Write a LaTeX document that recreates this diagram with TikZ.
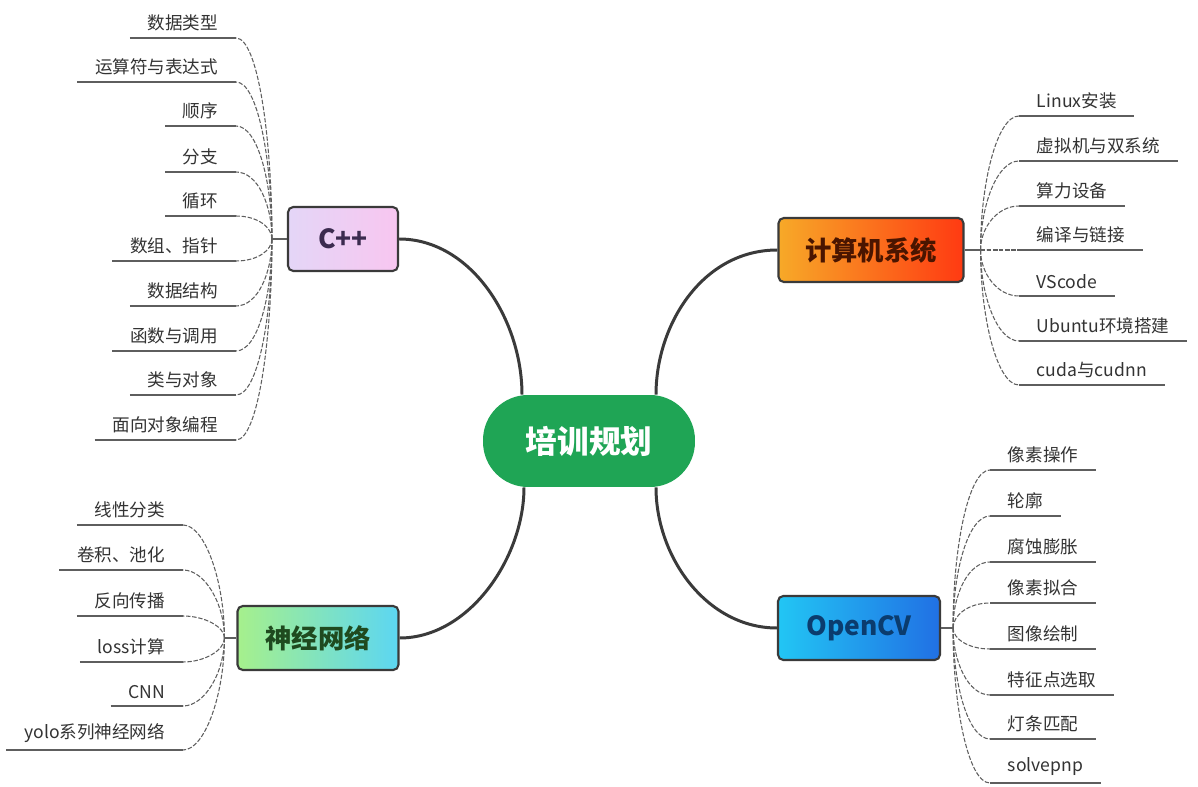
\documentclass[tikz,border=0pt]{standalone}
\usepackage{fontspec}
\setmainfont{Noto Sans CJK SC}
\usepackage{tikz}
\usetikzlibrary{calc}

\definecolor{hubgreen}{HTML}{1FA555}
\definecolor{trunkgray}{HTML}{3A3A3A}
\definecolor{twiggray}{HTML}{5E5E5E}
\definecolor{leafgray}{HTML}{333333}
\definecolor{cppL}{HTML}{E4D6F7}
\definecolor{cppR}{HTML}{F8C6F0}
\definecolor{sysL}{HTML}{F7A928}
\definecolor{sysR}{HTML}{FF3A12}
\definecolor{nnL}{HTML}{A6F08C}
\definecolor{nnR}{HTML}{5CD6F2}
\definecolor{cvL}{HTML}{22C6F4}
\definecolor{cvR}{HTML}{2170E4}

\tikzset{
  box/.style={draw=trunkgray, line width=1.2pt, rounded corners=3pt,
    minimum height=1.28cm, font=\fontsize{15}{18}\selectfont\bfseries},
  leaf/.style={inner xsep=10pt, inner ysep=4pt, text=leafgray,
    font=\fontsize{10}{12}\selectfont},
  lleaf/.style={leaf, anchor=south east},
  rleaf/.style={leaf, anchor=south west},
  trunk/.style={draw=trunkgray, line width=1.7pt},
  stem/.style={draw=twiggray, line width=0.7pt},
  twig/.style={draw=twiggray, line width=0.6pt, dash pattern=on 2.5pt off 1pt,
    to path={.. controls ($(\tikztostart)!.5!(\tikztostart|-\tikztotarget)$)
      and ($(\tikztotarget)+(#1,0)$) .. (\tikztotarget)}}
}

\begin{document}
\begin{tikzpicture}[x=0.02cm, y=-0.02cm]
  \fill[white] (0,0) rectangle (1198,787);
  \useasboundingbox (0,0) rectangle (1198,787);

  \node[fill=hubgreen, rounded corners=0.9cm, minimum width=4.24cm,
    minimum height=1.84cm, text=white, font=\fontsize{18}{22}\selectfont\bfseries]
    (hub) at (589,441) {培训规划};

  \node[box, minimum width=2.2cm, left color=cppL, right color=cppR,
    text={rgb,255:red,59;green,43;blue,79}]
    (cpp) at (343,239) {C++};

  \node[box, minimum width=3.7cm, left color=sysL, right color=sysR,
    text={rgb,255:red,74;green,21;blue,0}]
    (sys) at (871,250) {计算机系统};

  \node[box, minimum width=3.22cm, left color=nnL, right color=nnR,
    text={rgb,255:red,31;green,74;blue,31}]
    (nn) at (318,638) {神经网络};

  \node[box, minimum width=3.24cm, left color=cvL, right color=cvR,
    text={rgb,255:red,11;green,60;blue,110}]
    (cv) at (859,628) {OpenCV};

  \draw[trunk] (cpp.east) .. controls +(72,0) and ($(hub.north)+(-67,-75)$)
    .. ($(hub.north)+(-67,0)$);
  \draw[trunk] (sys.west) .. controls +(-75,0) and ($(hub.north)+(67,-70)$)
    .. ($(hub.north)+(67,0)$);
  \draw[trunk] (nn.east) .. controls +(70,0) and ($(hub.south)+(-65,70)$)
    .. ($(hub.south)+(-65,0)$);
  \draw[trunk] (cv.west) .. controls +(-70,0) and ($(hub.south)+(67,70)$)
    .. ($(hub.south)+(67,0)$);

  \coordinate (jc) at ($(cpp.west)+(-15,0)$);
  \coordinate (js) at ($(sys.east)+(16,0)$);
  \coordinate (jn) at ($(nn.west)+(-12,0)$);
  \coordinate (jv) at ($(cv.east)+(12,0)$);

  \draw[stem] (cpp.west) -- (jc);
  \draw[stem] (sys.east) -- (js);
  \draw[stem] (nn.west) -- (jn);
  \draw[stem] (cv.east) -- (jv);

  % C++
  \foreach \y/\t [count=\i] in {38/数据类型, 82/运算符与表达式, 126/顺序,
      172/分支, 216/循环, 261/数组、指针, 306/数据结构, 351/函数与调用,
      395/类与对象, 440/面向对象编程} {
    \node[lleaf] (c\i) at (236,\y) {\t};
    \draw[stem] (c\i.south west) -- (c\i.south east);
    \draw[twig=22] (jc) to (c\i.south east);
  }

  % neural networks
  \foreach \y/\t [count=\i] in {525/线性分类, 570/卷积、池化, 616/反向传播,
      662/loss计算, 706/CNN, 750/yolo系列神经网络} {
    \node[lleaf] (n\i) at (183,\y) {\t};
    \draw[stem] (n\i.south west) -- (n\i.south east);
    \draw[twig=22] (jn) to (n\i.south east);
  }

  % computer systems
  \foreach \y/\t [count=\i] in {116/Linux安装, 161/虚拟机与双系统, 206/算力设备,
      250/编译与链接, 296/VScode, 341/Ubuntu环境搭建, 385/cuda与cudnn} {
    \node[rleaf] (s\i) at (1019,\y) {\t};
    \draw[stem] (s\i.south west) -- (s\i.south east);
    \draw[twig=-22] (js) to (s\i.south west);
  }

  % OpenCV
  \foreach \y/\t [count=\i] in {470/像素操作, 516/轮廓, 562/腐蚀膨胀, 603/像素拟合,
      649/图像绘制, 695/特征点选取, 739/灯条匹配, 783/solvepnp} {
    \node[rleaf] (v\i) at (990,\y) {\t};
    \draw[stem] (v\i.south west) -- (v\i.south east);
    \draw[twig=-22] (jv) to (v\i.south west);
  }
\end{tikzpicture}
\end{document}
